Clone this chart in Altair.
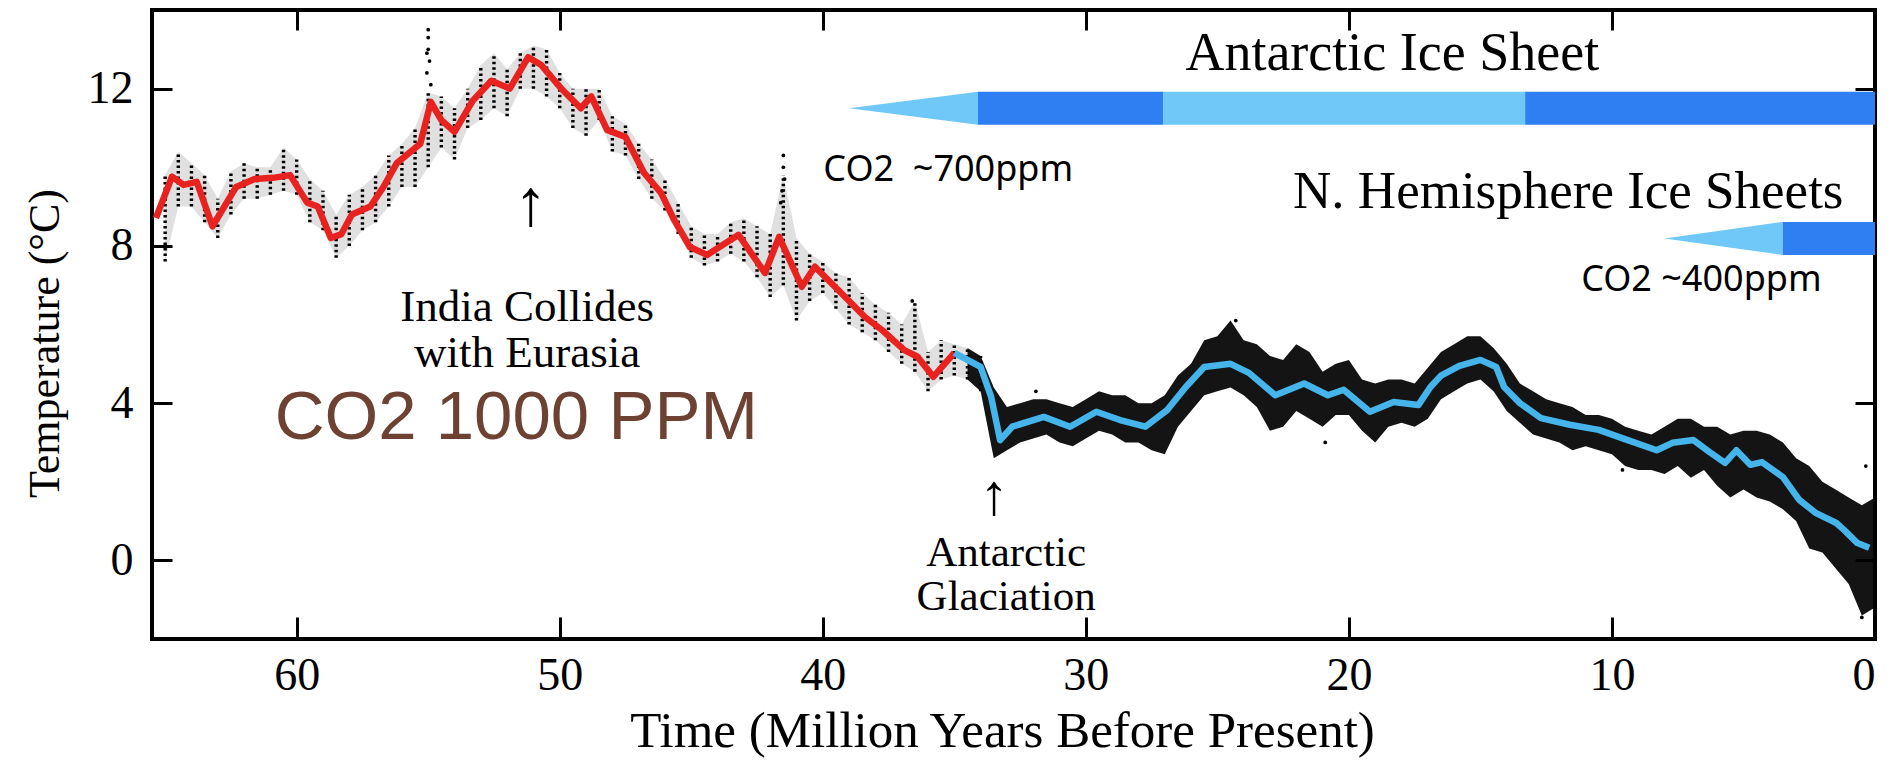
import altair as alt
import pandas as pd

# ---------------- data ----------------
# smoothed curve, warm period (red)
red_t = [65.35, 64.74, 64.3, 63.8, 63.2, 62.3, 61.6, 60.9, 60.25, 59.6, 59.2, 58.7, 58.3, 57.9,
         57.2, 56.7, 56.2, 55.3, 54.9, 54.5, 54.0, 53.3, 52.6, 51.9, 51.2, 50.7, 49.9, 49.2, 48.8,
         48.2, 47.5, 46.8, 46.15, 45.65, 45.05, 44.4, 43.2, 42.2, 41.66, 40.8, 40.3, 39.3, 38.4,
         37.75, 36.9, 36.4, 35.8, 35.0]
red_T = [8.71, 9.76, 9.55, 9.63, 8.5, 9.5, 9.7, 9.73, 9.8, 9.1, 9.0, 8.2, 8.3, 8.8,
         9.0, 9.5, 10.1, 10.6, 11.66, 11.2, 10.9, 11.7, 12.2, 12.0, 12.8, 12.6, 11.97, 11.5, 11.8,
         10.95, 10.77, 9.86, 9.35, 8.66, 7.97, 7.77, 8.28, 7.31, 8.23, 6.96, 7.47, 6.8, 6.19,
         5.86, 5.35, 5.18, 4.67, 5.28]

# smoothed curve, ice-house period (blue)
blue_t = [35.0, 34.0, 33.6, 33.26, 32.8, 31.6, 30.6, 29.6, 28.7, 27.74, 26.9, 26.2, 25.5, 24.5,
          23.8, 22.8, 21.7, 20.8, 20.2, 19.2, 18.3, 17.36, 16.9, 16.5, 15.8, 15.0, 14.4, 14.1,
          13.5, 12.7, 11.6, 10.5, 9.4, 8.3, 7.7, 6.9, 6.3, 5.7, 5.27, 4.74, 4.3, 3.5, 2.88,
          2.24, 1.47, 1.17, 0.67, 0.22]
blue_T = [5.28, 4.92, 4.16, 3.06, 3.4, 3.65, 3.4, 3.78, 3.57, 3.4, 3.83, 4.41, 4.92, 5.0,
          4.77, 4.2, 4.5, 4.2, 4.34, 3.78, 4.03, 3.95, 4.41, 4.7, 4.95, 5.1, 4.92, 4.41,
          4.0, 3.62, 3.45, 3.32, 3.06, 2.8, 2.99, 3.06, 2.76, 2.48, 2.8, 2.43, 2.5, 2.12, 1.54,
          1.2, 0.95, 0.77, 0.44, 0.32]

# spread of the individual measurements (lower / upper edge of the dot cloud)
cloud_t = [65.0, 64.5, 64.0, 63.5, 63.0, 62.5, 62.0, 61.5, 61.0, 60.5, 60.0, 59.5, 59.0, 58.5,
           58.0, 57.5, 57.0, 56.5, 56.0, 55.5, 55.0, 54.5, 54.0, 53.5, 53.0, 52.5, 52.0, 51.5,
           51.0, 50.5, 50.0, 49.5, 49.0, 48.5, 48.0, 47.5, 47.0, 46.5, 46.0, 45.5, 45.0, 44.5,
           44.0, 43.5, 43.0, 42.5, 42.0, 41.5, 41.0, 40.5, 40.0, 39.5, 39.0, 38.5, 38.0, 37.5,
           37.0, 36.5, 36.0, 35.5, 35.0, 34.5, 34.0, 33.5, 33.0, 32.5, 32.0, 31.5, 31.0, 30.5,
           30.0, 29.5, 29.0, 28.5, 28.0, 27.5, 27.0, 26.5, 26.0, 25.5, 25.0, 24.5, 24.0, 23.5,
           23.0, 22.5, 22.0, 21.5, 21.0, 20.5, 20.0, 19.5, 19.0, 18.5, 18.0, 17.5, 17.0, 16.5,
           16.0, 15.5, 15.0, 14.5, 14.0, 13.5, 13.0, 12.5, 12.0, 11.5, 11.0, 10.5, 10.0, 9.5,
           9.0, 8.5, 8.0, 7.5, 7.0, 6.5, 6.0, 5.5, 5.0, 4.5, 4.0, 3.5, 3.0, 2.5, 2.0, 1.5,
           1.0, 0.5, 0.0]
cloud_lo = [7.6, 9.0, 9.0, 8.6, 8.2, 8.8, 9.2, 9.2, 9.3, 9.4, 9.3, 8.6, 8.4, 7.7,
            8.0, 8.4, 8.6, 9.0, 9.5, 9.5, 10.0, 10.5, 10.2, 11.0, 11.2, 11.5, 11.3, 12.0,
            12.0, 11.8, 11.5, 11.0, 10.8, 11.2, 10.4, 10.3, 9.7, 9.2, 8.9, 8.3, 7.7, 7.5,
            7.6, 7.8, 7.6, 7.2, 6.7, 7.0, 6.1, 6.6, 6.8, 6.4, 6.0, 5.8, 5.6, 5.3,
            5.0, 4.8, 4.3, 4.6, 4.7, 4.6, 4.3, 2.6, 2.8, 3.0, 3.1, 3.2, 3.0, 2.9,
            3.1, 3.3, 3.2, 3.0, 3.0, 2.8, 2.7, 3.4, 3.8, 4.2, 4.3, 4.4, 4.2, 3.9,
            3.3, 3.4, 3.8, 3.6, 3.4, 3.7, 3.7, 3.3, 3.0, 3.4, 3.5, 3.4, 3.6, 4.1,
            4.3, 4.5, 4.6, 4.3, 3.8, 3.5, 3.2, 3.1, 3.0, 2.8, 2.9, 2.8, 2.7, 2.4,
            2.3, 2.3, 2.2, 2.4, 2.1, 2.3, 1.9, 1.6, 1.8, 1.6, 1.5, 1.3, 1.0, 0.3, 0.2, -0.2,
            -0.6, -1.4, -1.2]
cloud_hi = [9.8, 10.4, 10.1, 9.8, 9.2, 9.9, 10.1, 10.0, 10.0, 10.5, 10.2, 9.7, 9.4, 8.8,
            9.3, 9.5, 9.8, 10.3, 10.6, 11.0, 11.9, 11.8, 11.5, 12.0, 12.6, 12.9, 12.5, 12.9,
            13.1, 13.0, 12.4, 12.0, 12.0, 12.0, 11.3, 11.1, 10.6, 10.2, 9.7, 9.1, 8.5, 8.3,
            8.3, 8.6, 8.7, 8.5, 8.3, 9.8, 8.2, 7.8, 7.6, 7.3, 7.2, 6.8, 6.5, 6.3,
            6.0, 6.6, 5.3, 5.6, 5.5, 5.4, 5.2, 4.4, 3.9, 4.0, 4.1, 4.1, 4.0, 3.9,
            4.1, 4.3, 4.2, 4.2, 4.0, 4.0, 4.2, 4.7, 5.0, 5.6, 5.7, 6.1, 5.6, 5.5,
            5.2, 5.1, 5.5, 5.3, 4.8, 5.0, 5.1, 4.6, 4.5, 4.6, 4.6, 4.5, 4.9, 5.3,
            5.5, 5.7, 5.7, 5.4, 5.0, 4.5, 4.3, 4.1, 4.0, 3.9, 3.7, 3.7, 3.6, 3.4,
            3.3, 3.2, 3.4, 3.6, 3.6, 3.4, 3.4, 3.2, 3.3, 3.3, 3.2, 3.0, 2.6, 2.4, 2.0, 1.8,
            1.6, 1.4, 1.6]

# isolated extreme measurements
spike_t = [55.0, 55.0, 55.0, 54.95, 55.05, 54.9, 55.05, 41.5, 41.5, 41.45, 41.55, 41.6,
           36.6, 31.9, 24.3, 20.9, 9.6, 0.5, 0.35]
spike_T = [13.5, 13.3, 13.0, 12.7, 12.4, 12.1, 12.9, 10.3, 10.0, 9.7, 9.4, 9.1,
           6.6, 4.3, 6.1, 3.0, 2.3, -1.45, 2.4]

# ice-sheet bars
ant_tip = [39.0, 34.1]
ant_seg_start = [34.1, 27.05, 13.3]
ant_seg_end = [27.05, 13.3, 0.0]
ant_seg_kind = ["full", "partial", "full"]
ant_y = [11.08, 11.92]
nh_tip = [8.0, 3.52]
nh_seg_start = [3.52]
nh_seg_end = [0.0]
nh_seg_kind = ["full"]
nh_y = [7.77, 8.61]

x_ticks = [0, 10, 20, 30, 40, 50, 60]
y_ticks = [0, 4, 8, 12]

# ---------------- tables ----------------
red_df = pd.DataFrame({"t": red_t, "T": red_T})
blue_df = pd.DataFrame({"t": blue_t, "T": blue_T})
cloud_df = pd.DataFrame({"t": cloud_t, "lo": cloud_lo, "hi": cloud_hi})
spike_df = pd.DataFrame({"t": spike_t, "T": spike_T})

bars_df = pd.DataFrame({
    "x1": ant_seg_start + nh_seg_start,
    "x2": ant_seg_end + nh_seg_end,
    "y1": [ant_y[0]] * 3 + [nh_y[0]],
    "y2": [ant_y[1]] * 3 + [nh_y[1]],
    "kind": ant_seg_kind + nh_seg_kind,
})
mid_a = (ant_y[0] + ant_y[1]) / 2
mid_n = (nh_y[0] + nh_y[1]) / 2
tri_df = pd.DataFrame({
    "t": ant_tip + nh_tip,
    "lo": [mid_a, ant_y[0], mid_n, nh_y[0]],
    "hi": [mid_a, ant_y[1], mid_n, nh_y[1]],
    "grp": ["a", "a", "n", "n"],
})

SERIF = "Liberation Serif"
XS = alt.Scale(domain=[0, 65.5], reverse=True, nice=False, zero=False)
YS = alt.Scale(domain=[-2, 14], nice=False, zero=False)


def X(f, axis=None):
    return alt.X(f, type="quantitative", scale=XS, axis=axis)


def Y(f, axis=None):
    return alt.Y(f, type="quantitative", scale=YS, axis=axis)


LIGHT = "#6fc8f8"
DARK = "#2f7ef2"

bars = alt.Chart(bars_df).mark_rect().encode(
    x=X("x1"), x2="x2", y=Y("y1"), y2="y2",
    color=alt.Color("kind:N", scale=alt.Scale(domain=["full", "partial"], range=[DARK, LIGHT]), legend=None),
)
tris = alt.Chart(tri_df).mark_area(color=LIGHT, interpolate="linear").encode(
    x=X("t"), y=Y("lo"), y2="hi", detail="grp:N"
)

band = alt.Chart(cloud_df).transform_filter("datum.t <= 34.6").mark_area(
    color="black", interpolate="linear", opacity=0.92, clip=True
).encode(x=X("t"), y=Y("lo"), y2="hi")

haze = alt.Chart(cloud_df).transform_filter("datum.t >= 34.5").mark_area(
    color="black", interpolate="linear", opacity=0.12, clip=True
).encode(x=X("t"), y=Y("lo"), y2="hi")

dots = alt.Chart(cloud_df).transform_filter("datum.t >= 34.0").mark_rule(
    color="black", strokeWidth=3.4, strokeDash=[2.5, 3], clip=True
).encode(x=X("t"), y=Y("lo"), y2="hi")

spikes = alt.Chart(spike_df).mark_circle(color="black", size=14, opacity=1, clip=True).encode(
    x=X("t"), y=Y("T")
)

red = alt.Chart(red_df).mark_line(color="#e8231f", strokeWidth=6.5, strokeJoin="round", clip=True).encode(
    x=X("t"), y=Y("T"), order="t:Q"
)
blue = alt.Chart(blue_df).mark_line(color="#45b4ea", strokeWidth=6.5, strokeJoin="round", clip=True).encode(
    x=X("t"), y=Y("T"), order="t:Q"
)


def label(txt, t, T, font, size, color="black", line_height=None):
    df = pd.DataFrame({"t": [t], "T": [T], "txt": [txt]})
    kw = dict(font=font, fontSize=size, color=color, align="center", baseline="middle")
    if line_height is not None:
        kw.update(lineBreak="\n", lineHeight=line_height)
    return alt.Chart(df).mark_text(**kw).encode(x=X("t"), y=Y("T"), text="txt:N")


texts = [
    label("Antarctic Ice Sheet", 18.35, 12.89, SERIF, 54),
    label("N. Hemisphere Ice Sheets", 11.66, 9.37, SERIF, 53),
    label("CO2 ~400ppm", 6.6, 7.13, "Noto Sans", 36),
    label("CO2\u00a0 ~700ppm", 35.23, 9.93, "Noto Sans", 36),
    label("India Collides\nwith Eurasia", 51.24, 6.45, SERIF, 45, line_height=46),
    label("CO2 1000 PPM", 51.65, 3.62, "Liberation Sans", 69, color="#6e4232"),
    label("Antarctic\nGlaciation", 33.03, 0.2, SERIF, 43, line_height=44),
    label("\u2191", 51.1, 9.04, SERIF, 66),
    label("\u2191", 33.48, 1.62, SERIF, 58),
]

# axes: bottom/left carried by one invisible layer, top/right by another
ax_df = pd.DataFrame({"t": [65.5], "T": [-2.0]})
ax_common = dict(domain=False, grid=False, tickColor="black", tickWidth=3, labelOverlap=False)
axes_bl = alt.Chart(ax_df).mark_point(opacity=0).encode(
    x=X("t", alt.Axis(orient="bottom", values=x_ticks, offset=-22, tickSize=22,
                      labelFont=SERIF, labelFontSize=46, labelColor="black", labelPadding=14,
                      title="Time (Million Years Before Present)", titleFont=SERIF,
                      titleFontSize=51, titleFontWeight="normal", titleColor="black",
                      titlePadding=8, titleX=850, **ax_common)),
    y=Y("T", alt.Axis(orient="left", values=y_ticks, offset=-20, tickSize=20,
                      labelFont=SERIF, labelFontSize=46, labelColor="black", labelPadding=19,
                      title="Temperature (\u00b0C)", titleFont=SERIF, titleFontSize=44,
                      titleFontWeight="normal", titleColor="black", titlePadding=20,
                      titleY=333, **ax_common)),
)
axes_tr = alt.Chart(ax_df).mark_point(opacity=0).encode(
    x=X("t", alt.Axis(orient="top", values=x_ticks, offset=-20, tickSize=20, labels=False,
                      title=None, **ax_common)),
    y=Y("T", alt.Axis(orient="right", values=y_ticks, offset=-20, tickSize=20, labels=False,
                      title=None, **ax_common)),
)

chart = alt.layer(
    axes_bl, axes_tr, bars, tris, haze, band, dots, spikes, red, blue, *texts
).resolve_axis(x="independent", y="independent").properties(
    width=1723, height=629,
    autosize=alt.AutoSizeParams(type="none"),
    padding={"left": 144, "top": 2, "right": 10, "bottom": 126},
).configure_view(stroke="black", strokeWidth=4)

chart.save("out.html", embed_options={"renderer": "svg", "actions": False})
